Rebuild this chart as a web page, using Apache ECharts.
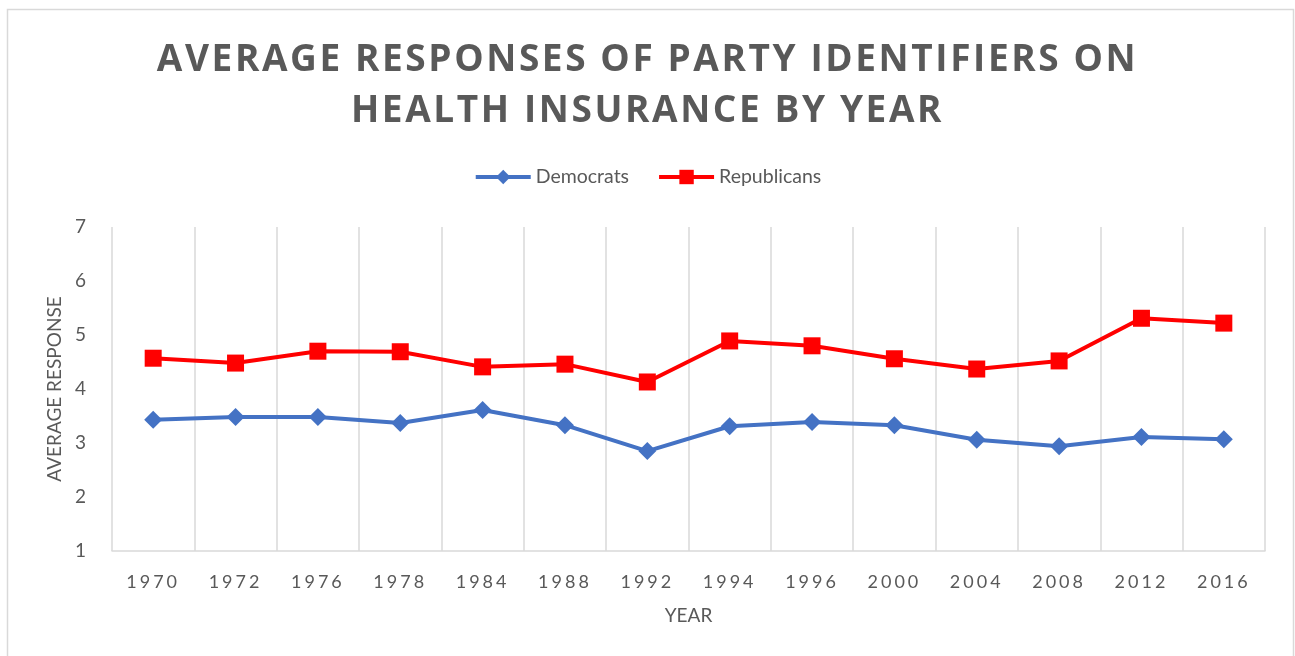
<!DOCTYPE html>
<html>
<head>
<meta charset="utf-8">
<script src="https://cdn.jsdelivr.net/npm/echarts@6/dist/echarts.min.js"></script>
<style>
	html, body { margin: 0; padding: 0; background: #fff; }
	#main { width: 1295px; height: 656px; }
</style>
</head>
<body>
<div id="main"></div>
<script>
var years = ['1970', '1972', '1976', '1978', '1984', '1988', '1992', '1994', '1996', '2000', '2004', '2008', '2012', '2016'];
var democrats = [3.43, 3.48, 3.48, 3.37, 3.61, 3.33, 2.85, 3.31, 3.39, 3.33, 3.06, 2.94, 3.11, 3.07];
var republicans = [4.57, 4.48, 4.70, 4.69, 4.41, 4.46, 4.13, 4.89, 4.80, 4.56, 4.37, 4.52, 5.31, 5.22];
var yTicks = [1, 7, 1]; // min, max, interval

// letter spacing for the title (37px) and year labels (18px), canvas only
(function () {
	var desc = Object.getOwnPropertyDescriptor(CanvasRenderingContext2D.prototype, 'font');
	Object.defineProperty(CanvasRenderingContext2D.prototype, 'font', {
		configurable: true,
		get: desc.get,
		set: function (v) {
			desc.set.call(this, v);
			if ('letterSpacing' in this) {
				this.letterSpacing = /(^|\s)37px/.test(v) ? '2.6px' : (/(^|\s)18px/.test(v) ? '3px' : '0px');
			}
		}
	});
})();

var myChart = echarts.init(document.getElementById('main'));
var textColor = '#595959';
var option = {
	backgroundColor: '#fff',
	color: ['#4472C4', '#FF0000'],
	animation: false,
	graphic: [{
		type: 'rect',
		shape: { x: 7.5, y: 9.5, width: 1286, height: 660 },
		style: { fill: 'none', stroke: '#d9d9d9', lineWidth: 1.5 },
		silent: true
	}],
	title: {
		text: 'AVERAGE RESPONSES OF PARTY IDENTIFIERS ON\nHEALTH INSURANCE BY YEAR',
		left: 'center',
		top: 30,
		textStyle: {
			color: textColor,
			fontFamily: 'Open Sans',
			fontWeight: 'bold',
			fontSize: 37,
			lineHeight: 51
		}
	},
	legend: {
		top: 162,
		left: 'center',
		itemWidth: 55,
		itemHeight: 18,
		itemGap: 28,
		lineStyle: { width: 4 },
		textStyle: { color: textColor, fontFamily: 'Lato', fontSize: 19.5 },
		data: ['Democrats', 'Republicans']
	},
	grid: {
		left: 112,
		right: 30,
		top: 227,
		bottom: 105
	},
	xAxis: {
		type: 'category',
		boundaryGap: true,
		data: years,
		name: 'YEAR',
		nameLocation: 'middle',
		nameGap: 55,
		nameTextStyle: { color: textColor, fontFamily: 'Lato', fontSize: 19 },
		axisLine: { lineStyle: { color: '#d9d9d9', width: 1.5 } },
		axisTick: { show: false },
		splitLine: { show: true, lineStyle: { color: '#d9d9d9', width: 1.5 } },
		axisLabel: {
			color: textColor,
			fontFamily: 'Lato',
			fontSize: 18,
			margin: 21
		}
	},
	yAxis: {
		type: 'value',
		min: yTicks[0],
		max: yTicks[1],
		interval: yTicks[2],
		name: 'AVERAGE RESPONSE',
		nameLocation: 'middle',
		nameRotate: 90,
		nameGap: 48,
		nameTextStyle: { color: textColor, fontFamily: 'Lato', fontSize: 19 },
		axisLine: { show: false },
		axisTick: { show: false },
		splitLine: { show: false },
		axisLabel: { color: textColor, fontFamily: 'Lato', fontSize: 19, margin: 26 }
	},
	series: [
		{
			name: 'Democrats',
			type: 'line',
			symbol: 'diamond',
			symbolSize: 18,
			lineStyle: { width: 4 },
			data: democrats
		},
		{
			name: 'Republicans',
			type: 'line',
			symbol: 'rect',
			symbolSize: 17,
			lineStyle: { width: 4 },
			data: republicans
		}
	]
};

myChart.setOption(option);
</script>
</body>
</html>
